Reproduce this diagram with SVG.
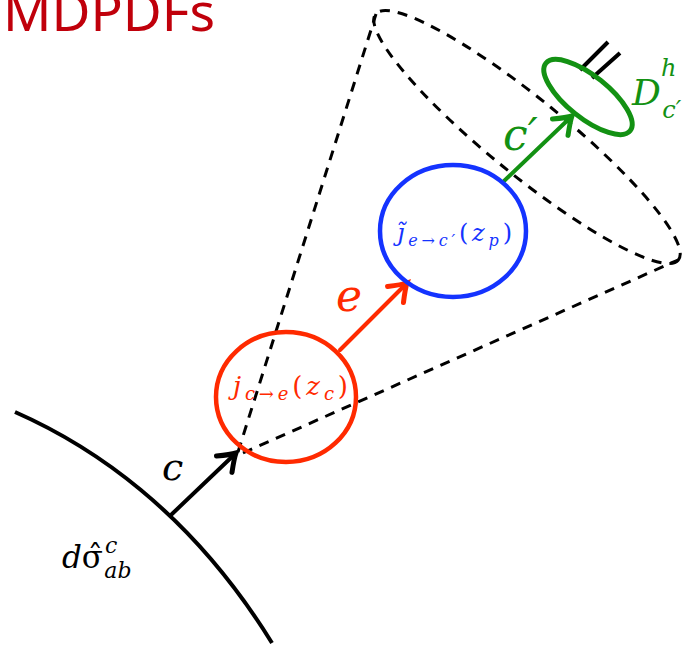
<svg xmlns="http://www.w3.org/2000/svg" width="684" height="647" viewBox="0 0 684 647">
  <style>
    .math { font-family: "DejaVu Serif", "Liberation Serif", serif; font-style: italic; }
    .up { font-style: normal; }
    .dash { fill: none; stroke: #000; stroke-width: 3; stroke-dasharray: 10 8; }
    .line { fill: none; stroke-width: 4; stroke-linecap: round; }
  </style>
  <defs>
    <marker id="headK" markerUnits="userSpaceOnUse" markerWidth="30" markerHeight="30" viewBox="-16 -12 20 24" refX="0" refY="0" orient="auto" overflow="visible">
      <path d="M-13,-9 Q-4,-2 0,0 Q-4,2 -13,9" fill="none" stroke="#000" stroke-width="4" stroke-linecap="round"/>
    </marker>
    <marker id="headR" markerUnits="userSpaceOnUse" markerWidth="30" markerHeight="30" viewBox="-16 -12 20 24" refX="0" refY="0" orient="auto" overflow="visible">
      <path d="M-13,-9 Q-4,-2 0,0 Q-4,2 -13,9" fill="none" stroke="#ff2a00" stroke-width="4" stroke-linecap="round"/>
    </marker>
    <marker id="headG" markerUnits="userSpaceOnUse" markerWidth="30" markerHeight="30" viewBox="-16 -12 20 24" refX="0" refY="0" orient="auto" overflow="visible">
      <path d="M-13,-9 Q-4,-2 0,0 Q-4,2 -13,9" fill="none" stroke="#139113" stroke-width="4" stroke-linecap="round"/>
    </marker>
  </defs>

  <rect width="684" height="647" fill="#fff"/>

  <!-- slide title -->
  <text id="title" x="3" y="31" font-family="'Noto Sans', 'Open Sans', sans-serif" font-size="52" fill="#c0000b" textLength="212" lengthAdjust="spacingAndGlyphs">MDPDFs</text>

  <!-- hard-scattering surface -->
  <g id="surface">
    <path d="M15,412 C90,445 190,510 272,643" fill="none" stroke="#000" stroke-width="4"/>
    <text class="math" x="62" y="568" font-size="31">d<tspan class="up">σ̂</tspan><tspan font-size="22" dx="2" dy="-15">c</tspan><tspan font-size="22" dx="-13" dy="25">ab</tspan></text>
  </g>

  <!-- jet cone -->
  <g id="cone">
    <path class="dash" d="M238,452 L376,14 M243,453 L678,260"/>
    <ellipse class="dash" cx="527" cy="137" rx="195" ry="38" transform="rotate(39.1 527 137)"/>
  </g>

  <!-- connectors -->
  <g id="connectors">
    <line class="line" x1="172" y1="514" x2="236" y2="453" stroke="#000" marker-end="url(#headK)"/>
    <line class="line" x1="340" y1="350" x2="407" y2="283" stroke="#ff2a00" marker-end="url(#headR)"/>
    <line class="line" x1="503" y1="182" x2="572" y2="116" stroke="#139113" marker-end="url(#headG)"/>
    <text class="math" x="162" y="480" font-size="38" fill="#000">c</text>
    <text class="math" x="336" y="311" font-size="44" fill="#ff2a00">e</text>
    <text class="math" x="503" y="150" font-size="44" fill="#139113">c′</text>
  </g>

  <!-- parton-to-parton jet function -->
  <g id="node-jce">
    <ellipse cx="286" cy="397" rx="70" ry="65" fill="none" stroke="#ff2a00" stroke-width="4.5"/>
    <text class="math" x="233" y="395" font-size="26" fill="#ff2a00" textLength="115" lengthAdjust="spacing">j<tspan font-size="18" dy="5">c</tspan><tspan class="up" font-size="18">→</tspan><tspan font-size="18">e</tspan><tspan class="up" dy="-5">(</tspan>z<tspan font-size="18" dy="5">c</tspan><tspan class="up" dy="-5">)</tspan></text>
  </g>

  <!-- jet fragmenting function -->
  <g id="node-jec">
    <ellipse cx="453" cy="231" rx="73" ry="66" fill="none" stroke="#1433ff" stroke-width="4.5"/>
    <text class="math" x="397" y="241" font-size="24" fill="#1433ff" textLength="115" lengthAdjust="spacing">j̃<tspan font-size="16" dy="5">e</tspan><tspan class="up" font-size="16">→</tspan><tspan font-size="16">c′</tspan><tspan class="up" dy="-5">(</tspan>z<tspan font-size="16" dy="5">p</tspan><tspan class="up" dy="-5">)</tspan></text>
  </g>

  <!-- hadronisation -->
  <g id="node-D">
    <path d="M580,70 L608,42 M592,78 L620,53" fill="none" stroke="#000" stroke-width="4"/>
    <ellipse cx="588" cy="97" rx="54" ry="21" transform="rotate(38.7 588 97)" fill="none" stroke="#139113" stroke-width="5"/>
    <text class="math" x="632" y="105" font-size="36" fill="#139113">D<tspan font-size="24" dy="-29">h</tspan><tspan font-size="24" dx="-14" dy="42">c′</tspan></text>
  </g>
</svg>
